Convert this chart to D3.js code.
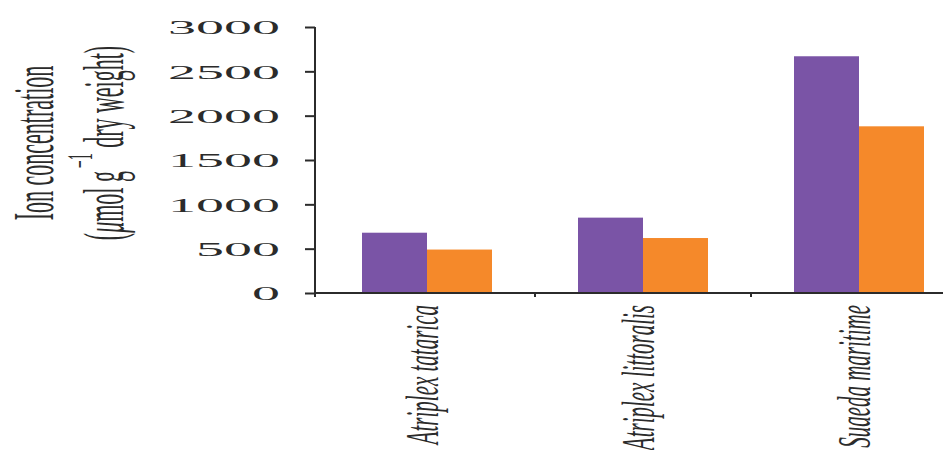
<!DOCTYPE html>
<html>
<head>
<meta charset="utf-8">
<script src="https://cdn.jsdelivr.net/npm/d3@7"></script>
<style>
  body { margin: 0; background: #fff; }
  svg { display: block; }
  .axis path, .axis line { stroke: #2b2b2b; stroke-width: 2; }
  .axis text { font-family: "Liberation Serif", "DejaVu Serif", serif; fill: #2b2b2b; }
</style>
</head>
<body>
<div id="chart"></div>
<script>
// Data
const species = ["Atriplex tatarica", "Atriplex littoralis", "Suaeda maritime"];
const series = ["purple", "orange"];
const purpleValues = [680, 850, 2670];
const orangeValues = [490, 620, 1880];
const yTicks = [0, 500, 1000, 1500, 2000, 2500, 3000];

const colors = { purple: "#7a54a6", orange: "#f5892a" };

const config = {
    width: 943,
    height: 450,
    margin: { top: 27, left: 315, bottom: 157 },
    bandStart: 319,
    bandWidth: 216,
    groupWidth: 130
};

const { width, height, margin } = config;
const plotBottom = height - margin.bottom;

const svg = d3.select("#chart")
    .append("svg")
    .attr("width", width)
    .attr("height", height);

// Scales

const x = d3.scaleBand()
    .domain(species)
    .range([config.bandStart, config.bandStart + config.bandWidth * species.length])
    .padding(0);

const xInner = d3.scaleBand()
    .domain(series)
    .range([0, config.groupWidth])
    .padding(0);

const y = d3.scaleLinear()
    .domain([0, 3000])
    .range([plotBottom, margin.top]);

const rows = species.map((s, i) => ({
    species: s,
    values: [
        { key: "purple", value: purpleValues[i] },
        { key: "orange", value: orangeValues[i] }
    ]
}));

// Bars

const groups = svg.selectAll("g.group")
    .data(rows)
    .join("g")
    .attr("class", "group")
    .attr("transform", d => `translate(${x(d.species) + (x.bandwidth() - config.groupWidth) / 2},0)`);

groups.selectAll("rect")
    .data(d => d.values)
    .join("rect")
    .attr("x", d => xInner(d.key))
    .attr("y", d => y(d.value))
    .attr("width", xInner.bandwidth())
    .attr("height", d => y(0) - y(d.value))
    .attr("fill", d => colors[d.key]);

// X axis

const xAxis = svg.append("g")
    .attr("class", "axis x-axis")
    .attr("transform", `translate(0,${plotBottom})`);

xAxis.append("line")
    .attr("x1", margin.left)
    .attr("x2", width)
    .attr("y1", 0)
    .attr("y2", 0);

xAxis.selectAll("line.sep")
    .data(species.slice(1))
    .join("line")
    .attr("class", "sep")
    .attr("x1", d => x(d))
    .attr("x2", d => x(d))
    .attr("y1", 0)
    .attr("y2", 4);

xAxis.selectAll("text")
    .data(species)
    .join("text")
    .attr("text-anchor", "end")
    .attr("font-style", "italic")
    .attr("font-size", 21)
    .attr("transform", d => `translate(${x(d) + x.bandwidth() / 2 + 11},12) scale(2.25,1) rotate(-90)`)
    .text(d => d);

// Y axis

const yAxis = svg.append("g")
    .attr("class", "axis y-axis")
    .attr("transform", `translate(${margin.left},0)`)
    .call(d3.axisLeft(y).tickValues(yTicks).tickFormat(d3.format("d")).tickSize(10).tickSizeOuter(0));

yAxis.select(".domain")
    .attr("d", `M0,${margin.top}V${plotBottom + 4}`);

yAxis.selectAll(".tick text")
    .attr("x", null)
    .attr("dy", "0.36em")
    .attr("font-size", 19)
    .attr("transform", "translate(-35,0) scale(2.95,1)");

// Y axis title

const title = svg.append("text")
    .attr("class", "y-title")
    .attr("font-family", "'Liberation Serif', serif")
    .attr("font-size", 22)
    .attr("fill", "#2b2b2b")
    .attr("text-anchor", "middle")
    .attr("transform", `translate(53,143) scale(2.6,1) rotate(-90)`);

title.append("tspan")
    .attr("x", 0)
    .attr("dy", 0)
    .text("Ion concentration");

const line2 = title.append("tspan")
    .attr("x", 0)
    .attr("dy", 27);

line2.append("tspan").text("(");
line2.append("tspan").attr("font-style", "italic").text("μ");
line2.append("tspan").text("mol g");
line2.append("tspan").attr("font-size", 14).attr("dy", -12).text("\u2009−1");
line2.append("tspan").attr("dy", 12).text(" dry weight)");
</script>
</body>
</html>
